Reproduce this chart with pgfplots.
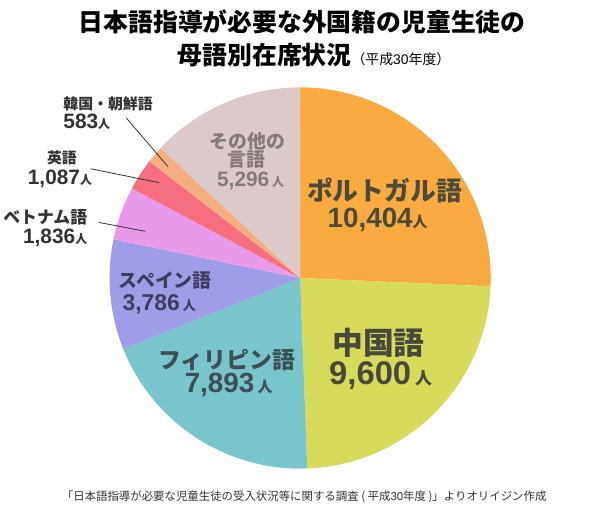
\documentclass[border=0pt]{standalone}
\usepackage{pgfplots}
\usepackage{pgfplotstable}
\pgfplotsset{compat=1.18}
\usepackage{fontspec}
\setmainfont{Noto Sans CJK JP}
\newfontfamily\lat{Liberation Sans}
\definecolor{c0}{HTML}{F9AA40}
\definecolor{c1}{HTML}{D6DB5C}
\definecolor{c2}{HTML}{78C5CC}
\definecolor{c3}{HTML}{9F9DE8}
\definecolor{c4}{HTML}{E999E9}
\definecolor{c5}{HTML}{F56F80}
\definecolor{c6}{HTML}{F4AE80}
\definecolor{c7}{HTML}{DCCACB}
\definecolor{tPor}{HTML}{4D4A3A}
\definecolor{tChi}{HTML}{48493A}
\definecolor{tFil}{HTML}{3B4F55}
\definecolor{tSpa}{HTML}{3E3D5E}
\definecolor{tOth}{HTML}{857A7B}
\definecolor{tOut}{HTML}{333333}
\pgfplotstableread{
lang value
Portuguese 10404
Chinese 9600
Filipino 7893
Spanish 3786
Vietnamese 1836
English 1087
Korean 583
Other 5296
}\piedata
\gdef\pieTotal{0}
\pgfplotsforeachungrouped \i in {0,...,7}{%
  \pgfplotstablegetelem{\i}{value}\of\piedata
  \xdef\pieTotal{\fpeval{\pieTotal+\pgfplotsretval}}%
}
\gdef\pieCum{0}
\pgfplotsforeachungrouped \i in {0,...,7}{%
  \pgfplotstablegetelem{\i}{value}\of\piedata
  \expandafter\xdef\csname pieS\i\endcsname{\fpeval{90-360*\pieCum/\pieTotal}}%
  \xdef\pieCum{\fpeval{\pieCum+\pgfplotsretval}}%
  \expandafter\xdef\csname pieE\i\endcsname{\fpeval{90-360*\pieCum/\pieTotal}}%
}
\newcommand\fs[1]{\fontsize{#1}{#1}\selectfont}
\begin{document}
\begin{tikzpicture}
\begin{axis}[
  width=600pt, height=529pt, scale only axis,
  xmin=0, xmax=600, ymin=0, ymax=529, y dir=reverse,
  hide axis, clip=false, enlargelimits=false]
\fill[white] (axis cs:0,0) rectangle (axis cs:600,529);
\pgfplotsinvokeforeach{0,...,7}{
  \fill[c#1] (axis cs:298,280) -- ++(\csname pieS#1\endcsname:192pt)
    arc[start angle=\csname pieS#1\endcsname, end angle=\csname pieE#1\endcsname, radius=192pt] -- cycle;
}
% title
\node[font=\fs{25}\bfseries] at (axis cs:300,22) {日本語指導が必要な外国籍の児童生徒の};
\node[font=\fs{25}\bfseries] at (axis cs:312,56) {母語別在席状況{\fs{14}\mdseries（平成{\lat 30}年度）}};
% inner labels
\node[font=\fs{26}\bfseries, text=tPor] at (axis cs:383,192) {ポルトガル語};
\node[font=\fs{28}\bfseries, text=tPor] at (axis cs:376,222) {{\lat 10,404}{\fs{15}人}};
\node[font=\fs{31}\bfseries, text=tChi] at (axis cs:377,345) {中国語};
\node[font=\fs{33}\bfseries, text=tChi] at (axis cs:379,378) {{\lat 9,600}{\fs{17} 人}};
\node[font=\fs{23}\bfseries, text=tFil] at (axis cs:224,363) {フィリピン語};
\node[font=\fs{28}\bfseries, text=tFil] at (axis cs:226,388) {{\lat 7,893}{\fs{15} 人}};
\node[font=\fs{19}\bfseries, text=tSpa] at (axis cs:162,283) {スペイン語};
\node[font=\fs{23}\bfseries, text=tSpa] at (axis cs:156,307) {{\lat 3,786}{\fs{13} 人}};
\node[font=\fs{19}\bfseries, text=tOth] at (axis cs:245,142) {その他の};
\node[font=\fs{19}\bfseries, text=tOth] at (axis cs:244,161) {言語};
\node[font=\fs{21}\bfseries, text=tOth] at (axis cs:248,182) {{\lat 5,296}{\fs{12} 人}};
% outer labels
\node[font=\fs{15}\bfseries, text=tOut, anchor=west] at (axis cs:56,105) {韓国・朝鮮語};
\node[font=\fs{21}\bfseries, text=tOut, anchor=west] at (axis cs:56,123) {{\lat 583}{\fs{12}人}};
\node[font=\fs{15}\bfseries, text=tOut] at (axis cs:58,159) {英語};
\node[font=\fs{21}\bfseries, text=tOut] at (axis cs:56,180) {{\lat 1,087}{\fs{12}人}};
\node[font=\fs{17}\bfseries, text=tOut, anchor=east] at (axis cs:87,219) {ベトナム語};
\node[font=\fs{21}\bfseries, text=tOut, anchor=east] at (axis cs:87,240) {{\lat 1,836}{\fs{12}人}};
\draw[tOut, line width=0.8pt] (axis cs:123,119) -- (axis cs:165,168);
\draw[tOut, line width=0.8pt] (axis cs:87,170) -- (axis cs:156,184);
\draw[tOut, line width=0.8pt] (axis cs:95,224) -- (axis cs:142,233);
% footnote
\node[font=\fs{11.5}, text=tOut] at (axis cs:302,500) {「日本語指導が必要な児童生徒の受入状況等に関する調査 ( 平成{\lat 30}年度 )」よりオリイジン作成};
\end{axis}
\end{tikzpicture}
\end{document}
